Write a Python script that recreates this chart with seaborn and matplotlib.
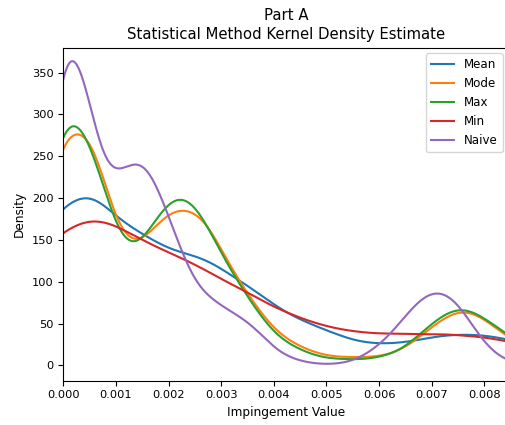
import numpy as np
import pandas as pd
import matplotlib
matplotlib.use("Agg")
import matplotlib.pyplot as plt
import seaborn as sns

# impingement bin centres (-0.00075 .. 0.012, step 0.00025) and observation counts per method
bin_centres = np.round(np.arange(-3, 49) * 0.00025, 5)

mean_counts = [100, 146, 173,
               190, 201, 206, 195, 177, 167, 157, 148, 139, 135,
               131, 126, 116, 105, 96, 84, 73, 62, 55, 48,
               42, 36, 30, 27, 26, 26, 28, 30, 34, 36,
               37, 37, 36, 34, 30, 27, 23, 18, 13, 8,
               20, 35, 45, 55, 60, 60, 50, 40, 27]
mode_counts = [45, 120, 215,
               290, 277, 290, 228, 164, 142, 144, 168, 184, 190,
               185, 174, 136, 111, 85, 63, 42, 31, 22, 16,
               11, 10, 10, 10, 10, 14, 20, 33, 46, 58,
               67, 66, 56, 43, 32, 22, 12, 6, 2, 1,
               8, 15, 20, 22, 24, 22, 18, 13, 7]
max_counts = [50, 130, 230,
              301, 304, 270, 220, 157, 135, 143, 176, 198, 208,
              195, 167, 133, 106, 83, 58, 38, 26, 19, 12,
              8, 8, 7, 7, 10, 13, 21, 36, 50, 63,
              70, 68, 56, 46, 34, 24, 14, 7, 4, 1,
              5, 10, 15, 15, 15, 13, 10, 7, 4]
min_counts = [105, 130, 147,
              160, 169, 175, 173, 168, 158, 150, 142, 135, 129,
              120, 113, 103, 95, 88, 78, 70, 63, 57, 51,
              47, 43, 41, 39, 38, 38, 38, 37, 37, 38,
              36, 35, 34, 31, 28, 25, 22, 19, 16, 13,
              40, 55, 65, 70, 75, 75, 70, 65, 51]
naive_counts = [20, 100, 230,
                425, 383, 324, 222, 226, 240, 256, 222, 180, 134,
                93, 83, 71, 62, 54, 39, 19, 10, 5, 2,
                1, 2, 4, 13, 23, 39, 59, 79, 91, 90,
                77, 50, 25, 10, 3, 2, 1, 0, 0, 0,
                2, 3, 4, 5, 5, 5, 4, 2, 1]

methods = ["Mean", "Mode", "Max", "Min", "Naive"]
counts = [mean_counts, mode_counts, max_counts, min_counts, naive_counts]

df = pd.concat([pd.DataFrame({"Impingement": bin_centres, "Count": c, "Method": m})
                for m, c in zip(methods, counts)], ignore_index=True)

bandwidth = 0.00025  # kernel width in impingement units

fig = plt.figure(figsize=(5.05, 4.25), dpi=100)
ax = fig.add_axes([0.1253, 0.1047, 0.8816, 0.7835])

for m in methods:
    sub = df[df["Method"] == m]
    std = np.sqrt(np.cov(sub["Impingement"], aweights=sub["Count"]))
    sns.kdeplot(data=sub, x="Impingement", weights="Count", bw_method=bandwidth / std,
                gridsize=1000, label=m, linewidth=1.5, ax=ax)

ax.set_xlim(0, 0.00846)
ax.set_ylim(-18, 380)
ax.set_xticks(np.arange(0, 0.0085, 0.001))
ax.set_yticks(np.arange(0, 351, 50))
ax.tick_params(labelsize=8.2)
ax.set_xlabel("Impingement Value", fontsize=8.7)
ax.set_ylabel("Density", fontsize=8.7)
ax.set_title("Part A\nStatistical Method Kernel Density Estimate", fontsize=10.7,
             pad=6, linespacing=1.32)
ax.legend(loc="upper right", fontsize=8.6)

fig.savefig("out.png", dpi=100)
